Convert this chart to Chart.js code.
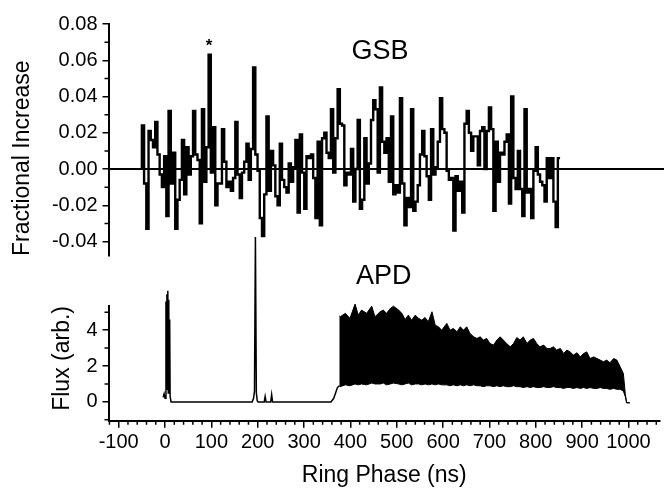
<!DOCTYPE html>
<html>
<head>
<meta charset="utf-8">
<script src="https://cdn.jsdelivr.net/npm/chart.js@4.4.1/dist/chart.umd.min.js"></script>
<style>
  html, body { margin: 0; padding: 0; background: #fff; }
  #wrap { position: relative; width: 664px; height: 488px; }
  #wrap canvas { position: absolute; left: 0; top: 0; }
</style>
</head>
<body>
<div id="wrap">
  <canvas id="gsbChart" width="664" height="488"></canvas>
  <canvas id="apdChart" width="664" height="488"></canvas>
</div>
<script>
// GSB fractional increase, one value per ring-phase bin
const gsbStart = -50;
const gsbBinWidth = 4.8;
const gsbValues = [
  0.024, -0.008, -0.033, 0.021, 0.016, 0.012, 0.026, 0.008, -0.003, -0.010,
  0.007, -0.026, 0.032, -0.008, 0.009, -0.033, -0.017, -0.006, 0.016, -0.014,
  0.012, -0.003, 0.007, 0.032, 0.008, 0.005, -0.030, 0.033, -0.007, 0.012,
  0.063, -0.002, 0.023, -0.020, -0.008, -0.008, 0.022, 0.004, -0.010, -0.007,
  -0.012, -0.005, 0.026, -0.003, -0.016, -0.002, 0.004, 0.014, -0.006, 0.011,
  0.056, 0.008, -0.001, -0.027, -0.037, -0.014, 0.029, -0.012, 0.010, 0.002,
  -0.015, -0.020, 0.014, -0.006, -0.010, -0.013, 0.003, -0.007, 0.001, 0.016,
  -0.024, 0.019, -0.002, -0.022, 0.007, 0.006, 0.008, -0.005,
  -0.027, 0.015, -0.031, 0.017, 0.020, 0.009, 0.006, 0.033, -0.002, 0.017,
  0.044, 0.025, 0.024, -0.009, -0.002, -0.003, 0.011, -0.018, 0.000, 0.027,
  -0.022, -0.017, 0.017, -0.008, 0.003, 0.027, 0.038, 0.033, -0.002, 0.045,
  0.015, 0.009, 0.017, -0.007, 0.029, -0.014, -0.009, -0.013, 0.039, -0.008,
  -0.031, -0.016, -0.021, 0.033, -0.023, -0.018, -0.009, 0.008, 0.021, 0.007,
  -0.004, -0.017, 0.022, -0.003, 0.001, 0.015, 0.039, 0.022, 0.020, -0.001,
  -0.006, -0.005, -0.034, -0.004, -0.012, -0.007, -0.024, 0.025, 0.032, 0.020,
  0.010, 0.018, 0.018, 0.002, 0.021, 0.023, 0.000, 0.021, 0.034, 0.022,
  -0.023, 0.015, -0.007, 0.009, 0.008, 0.015, 0.019, -0.019, 0.040, -0.005,
  -0.011, 0.010, -0.011, -0.026, 0.033, -0.013, -0.011, -0.027, -0.001, 0.012,
  -0.003, -0.007, -0.009, -0.018, 0.006, -0.005, 0.006, -0.018, -0.032, 0.006
];

// APD flux before the bunch train
const apdNs = [-4, -2, 0, 2, 3, 4, 5, 6, 7, 8, 9, 10, 11, 13, 188, 191, 193, 195, 197, 199,
  201, 214, 216, 218, 228, 230, 232, 358, 364, 368, 372, 376];
const apdFlux = [0.25, 0.45, 0.2, 5.6, 0.7, 6.0, 1.0, 6.2, 0.5, 5.7, 0.8, 4.6, 0.3, 0, 0, 0.2, 0.6, 9.2, 0.5, 0.05,
  0, 0, 0.3, 0, 0, 0.4, 0, 0, 0.2, 0.5, 0.8, 0.9];

// APD bunch train: upper and lower envelope
const bandNs = [376, 378, 389, 399, 410, 417, 424, 435, 446, 453, 464, 471, 478, 486, 493, 504, 511, 518, 525, 532,
  540, 547, 554, 561, 568, 576, 583, 590, 597, 608, 615, 622, 630, 637, 644, 651, 658, 666, 673, 680,
  687, 694, 701, 709, 716, 723, 730, 737, 745, 752, 759, 766, 773, 781, 788, 795, 802, 809, 817, 824,
  831, 838, 845, 853, 860, 867, 874, 881, 889, 896, 903, 910, 917, 925, 932, 939, 946, 953, 960, 968,
  975, 982, 989, 993, 996, 1003];
const bandTop = [4.8, 4.75, 4.94, 4.66, 5.46, 4.84, 5.12, 4.94, 5.34, 4.75, 5.03, 5.12, 4.94, 5.21, 5.34, 5.12, 4.94, 4.60, 4.84, 4.56,
  4.84, 4.66, 4.56, 4.71, 4.47, 5.03, 4.28, 4.19, 4.00, 4.38, 4.00, 4.10, 3.91, 4.19, 4.00, 4.19, 3.82, 3.63, 3.54, 3.63,
  3.45, 3.54, 3.26, 3.17, 3.45, 3.63, 3.45, 3.26, 3.07, 3.26, 3.59, 3.45, 3.63, 3.26, 3.45, 3.54, 3.26, 3.07, 3.17, 2.98,
  2.98, 3.07, 2.89, 2.98, 2.70, 2.89, 2.79, 2.61, 2.74, 2.51, 2.70, 2.79, 2.42, 2.51, 2.42, 2.33, 2.24, 2.33, 2.18, 2.42,
  2.33, 1.96, 1.58, 0.47, -0.05, -0.05];
const bandBottom = [0.9, 0.85, 0.95, 0.9, 1.0, 0.95, 1.0, 0.95, 1.05, 1.0, 1.0, 1.05, 0.95, 1.0, 1.05, 1.0, 0.95, 1.0, 1.05, 0.95,
  1.0, 1.0, 0.95, 1.0, 0.95, 1.0, 0.95, 1.0, 0.95, 0.95, 0.9, 0.95, 0.9, 0.95, 0.9, 0.95, 0.9, 0.95, 0.9, 0.9,
  0.85, 0.9, 0.9, 0.85, 0.9, 0.85, 0.9, 0.85, 0.85, 0.9, 0.85, 0.85, 0.8, 0.85, 0.8, 0.85, 0.8, 0.8, 0.85, 0.8,
  0.8, 0.85, 0.8, 0.8, 0.75, 0.8, 0.8, 0.75, 0.8, 0.75, 0.8, 0.75, 0.8, 0.75, 0.75, 0.8, 0.75, 0.75, 0.7, 0.75,
  0.7, 0.7, 0.6, 0.3, -0.05, -0.05];

// axis ticks
const xTicks = [-100, 0, 100, 200, 300, 400, 500, 600, 700, 800, 900, 1000];
const xMinorTicks = [-120, -80, -60, -40, -20, 20, 40, 60, 80, 120, 140, 160, 180, 220, 240, 260, 280,
  320, 340, 360, 380, 420, 440, 460, 480, 520, 540, 560, 580, 620, 640, 660, 680,
  720, 740, 760, 780, 820, 840, 860, 880, 920, 940, 960, 980, 1020, 1040, 1060];
const gsbTicks = [-0.04, -0.02, 0, 0.02, 0.04, 0.06, 0.08];
const gsbMinorTicks = [-0.03, -0.01, 0.01, 0.03, 0.05, 0.07];
const fluxTicks = [0, 2, 4];
const fluxMinorTicks = [-1, 1, 3, 5];

const xMin = -122, xMax = 1068;
const FONT = '"Liberation Sans", Arial, sans-serif';

// short unlabeled ticks between the labelled ones
const minorTicks = {
  id: 'minorTicks',
  afterDraw(chart, args, opts) {
    const ctx = chart.ctx;
    ctx.save();
    ctx.strokeStyle = '#000';
    ctx.lineWidth = 1.5;
    (opts.list || []).forEach(function (m) {
      const s = chart.scales[m.axis];
      ctx.beginPath();
      m.values.forEach(function (v) {
        const p = s.getPixelForValue(v);
        if (s.isHorizontal()) {
          ctx.moveTo(p, s.top);
          ctx.lineTo(p, s.top + m.len);
        } else {
          ctx.moveTo(s.right - m.len, p);
          ctx.lineTo(s.right, p);
        }
      });
      ctx.stroke();
    });
    ctx.restore();
  }
};

const textLabels = {
  id: 'textLabels',
  afterDatasetsDraw(chart, args, opts) {
    const ctx = chart.ctx;
    ctx.save();
    ctx.fillStyle = '#000';
    ctx.textAlign = 'center';
    ctx.textBaseline = 'middle';
    (opts.items || []).forEach(function (it) {
      ctx.font = it.font;
      ctx.fillText(it.text, chart.scales.x.getPixelForValue(it.x), chart.scales.y.getPixelForValue(it.y));
    });
    ctx.restore();
  }
};

function fixedTicks(values) {
  return function (s) { s.ticks = values.map(function (v) { return { value: v }; }); };
}

function xScale(show) {
  const sc = {
    type: 'linear', min: xMin, max: xMax, display: show,
    afterBuildTicks: fixedTicks(xTicks),
    ticks: { autoSkip: false, color: '#000', font: { family: FONT, size: 20 }, padding: 3, maxRotation: 0,
      callback: function (v) { return String(v); } },
    grid: { drawOnChartArea: false, drawTicks: true, tickLength: 7, color: '#000', lineWidth: 1.5 },
    border: { display: true, color: '#000', width: 2 },
    title: { display: show, text: 'Ring Phase (ns)', color: '#000', font: { family: FONT, size: 23, lineHeight: 1 }, padding: { top: 0, bottom: 1 } }
  };
  if (show) sc.afterFit = function (s) { s.height = 67.3; };
  return sc;
}

// top panel: GSB step trace
const gsbPoints = [{ x: gsbStart, y: 0 }];
gsbValues.forEach(function (v, i) { gsbPoints.push({ x: gsbStart + i * gsbBinWidth, y: v }); });
gsbPoints.push({ x: gsbStart + gsbValues.length * gsbBinWidth, y: gsbValues[gsbValues.length - 1] });

new Chart(document.getElementById('gsbChart'), {
  type: 'line',
  data: {
    datasets: [
      { data: [{ x: xMin, y: 0 }, { x: 1080, y: 0 }], borderColor: '#000', borderWidth: 2, pointRadius: 0, clip: false },
      { data: gsbPoints, stepped: 'before', borderColor: '#000', borderWidth: 2.4, pointRadius: 0 }
    ]
  },
  options: {
    responsive: false, animation: false, events: [],
    layout: { padding: { left: 0, right: 4, top: 24, bottom: 232 } },
    plugins: {
      legend: { display: false }, tooltip: { enabled: false },
      minorTicks: { list: [{ axis: 'y', len: 4, values: gsbMinorTicks }] },
      textLabels: { items: [
        { text: 'GSB', x: 464, y: 0.0646, font: '27px ' + FONT },
        { text: '*', x: 95, y: 0.0675, font: 'bold 17px ' + FONT }
      ] }
    },
    scales: {
      x: xScale(false),
      y: {
        min: -0.048, max: 0.08,
        afterBuildTicks: fixedTicks(gsbTicks),
        ticks: { color: '#000', font: { family: FONT, size: 20 }, padding: 5,
          callback: function (v) { return v.toFixed(2); } },
        grid: { drawOnChartArea: false, drawTicks: true, tickLength: 6, color: '#000', lineWidth: 1.5 },
        border: { display: true, color: '#000', width: 2 },
        title: { display: true, text: 'Fractional Increase', align: 'start', color: '#000', font: { family: FONT, size: 23 }, padding: { top: 9 } },
        afterFit: function (s) { s.width = 108.5; }
      }
    }
  },
  plugins: [minorTicks, textLabels]
});

// bottom panel: APD flux
new Chart(document.getElementById('apdChart'), {
  type: 'line',
  data: {
    datasets: [
      { data: apdNs.map(function (x, i) { return { x: x, y: apdFlux[i] }; }), borderColor: '#000', borderWidth: 1.5, pointRadius: 0, clip: false },
      { data: bandNs.map(function (x, i) { return { x: x, y: bandBottom[i] }; }), borderColor: '#000', borderWidth: 1, pointRadius: 0, clip: false },
      { data: bandNs.map(function (x, i) { return { x: x, y: bandTop[i] }; }), borderColor: '#000', borderWidth: 1, pointRadius: 0,
        fill: '-1', backgroundColor: '#000', clip: false }
    ]
  },
  options: {
    responsive: false, animation: false, events: [],
    layout: { padding: { left: 0, right: 4, top: 306, bottom: 0 } },
    plugins: {
      legend: { display: false }, tooltip: { enabled: false },
      minorTicks: { list: [
        { axis: 'y', len: 4, values: fluxMinorTicks },
        { axis: 'x', len: 4, values: xMinorTicks }
      ] },
      textLabels: { items: [{ text: 'APD', x: 472, y: 6.97, font: '27px ' + FONT }] }
    },
    scales: {
      x: xScale(true),
      y: {
        min: -1.05, max: 5.35,
        afterBuildTicks: fixedTicks(fluxTicks),
        ticks: { color: '#000', font: { family: FONT, size: 20 }, padding: 5 },
        grid: { drawOnChartArea: false, drawTicks: true, tickLength: 6, color: '#000', lineWidth: 1.5 },
        border: { display: true, color: '#000', width: 2 },
        title: { display: true, text: 'Flux (arb.)', align: 'end', color: '#000', font: { family: FONT, size: 23 }, padding: { top: 49 } },
        afterFit: function (s) { s.width = 108.5; }
      }
    }
  },
  plugins: [minorTicks, textLabels]
});
</script>
</body>
</html>
